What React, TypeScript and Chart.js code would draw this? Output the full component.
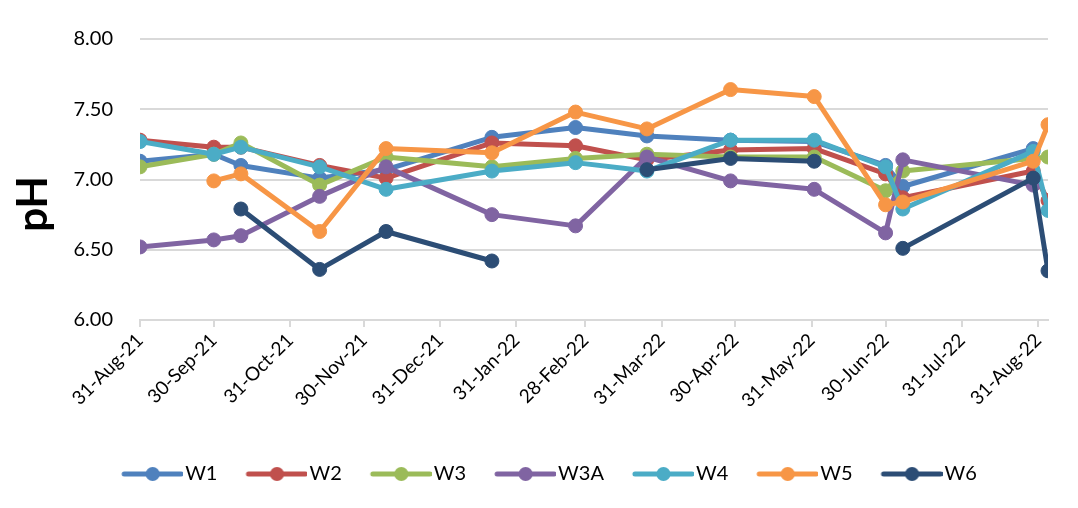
import React, { useEffect, useRef } from 'react';
import { Chart, registerables } from 'chart.js';

Chart.register(...registerables);

// Sampling dates (shared by all series)
const SAMPLE_DATES = [
  '2021-08-31', '2021-09-30', '2021-10-11', '2021-11-12', '2021-12-09',
  '2022-01-21', '2022-02-24', '2022-03-25', '2022-04-28', '2022-06-01',
  '2022-06-30', '2022-07-07', '2022-08-29', '2022-09-04',
];

const W1_PH = [7.13, 7.18, 7.10, 7.01, 7.07, 7.30, 7.37, 7.31, 7.28, 7.27, 7.10, 6.95, 7.22, null];
const W2_PH = [7.28, 7.23, 7.23, 7.10, 7.01, 7.26, 7.24, 7.14, 7.21, 7.22, 7.04, 6.87, 7.06, 6.85];
const W3_PH = [7.09, 7.18, 7.26, 6.96, 7.16, 7.09, 7.15, 7.18, 7.16, 7.16, 6.92, 7.06, null, 7.16];
const W3A_PH = [6.52, 6.57, 6.60, 6.88, 7.09, 6.75, 6.67, 7.16, 6.99, 6.93, 6.62, 7.14, 6.96, null];
const W4_PH = [7.27, 7.18, 7.23, 7.09, 6.93, 7.06, 7.12, 7.06, 7.28, 7.28, 7.09, 6.79, 7.20, 6.78];
const W5_PH = [null, 6.99, 7.04, 6.63, 7.22, 7.19, 7.48, 7.36, 7.64, 7.59, 6.82, 6.84, 7.13, 7.39];
const W6_PH = [null, null, 6.79, 6.36, 6.63, 6.42, null, 7.07, 7.15, 7.13, null, 6.51, 7.01, 6.35];

const SERIES_NAMES = ['W1', 'W2', 'W3', 'W3A', 'W4', 'W5', 'W6'];
const SERIES_VALUES = [W1_PH, W2_PH, W3_PH, W3A_PH, W4_PH, W5_PH, W6_PH];
const SERIES_COLORS = ['#4F81BD', '#C0504D', '#9BBB59', '#8064A2', '#4BACC6', '#F79646', '#2C4D75'];
const SERIES_SPAN_GAPS = [true, true, true, true, true, true, false];

const TICK_DATES = [
  '2021-08-31', '2021-09-30', '2021-10-31', '2021-11-30', '2021-12-31', '2022-01-31',
  '2022-02-28', '2022-03-31', '2022-04-30', '2022-05-31', '2022-06-30', '2022-07-31', '2022-08-31',
];
const TICK_LABELS = [
  '31-Aug-21', '30-Sep-21', '31-Oct-21', '30-Nov-21', '31-Dec-21', '31-Jan-22',
  '28-Feb-22', '31-Mar-22', '30-Apr-22', '31-May-22', '30-Jun-22', '31-Jul-22', '31-Aug-22',
];
const X_MIN_DATE = '2021-08-31';
const X_MAX_DATE = '2022-09-04';
const Y_MIN = 6;
const Y_MAX = 8;
const Y_STEP = 0.5;
const Y_TITLE = 'pH';

const FONT = 'Lato';

function dayOf(s: string): number {
  const [y, m, d] = s.split('-').map(Number);
  return (Date.UTC(y, m - 1, d) - Date.UTC(2021, 7, 31)) / 86400000;
}

function makeLegendImage(color: string): HTMLCanvasElement {
  const c = document.createElement('canvas');
  c.width = 88;
  c.height = 18;
  const g = c.getContext('2d')!;
  g.strokeStyle = color;
  g.lineWidth = 5;
  g.lineCap = 'round';
  g.beginPath();
  g.moveTo(29, 9);
  g.lineTo(86, 9);
  g.stroke();
  g.fillStyle = color;
  g.beginPath();
  g.arc(57.5, 9, 7, 0, Math.PI * 2);
  g.fill();
  return c;
}

const LEGEND_SHIFT = 16;

export default function App() {
  const ref = useRef<HTMLCanvasElement | null>(null);

  useEffect(() => {
    if (!ref.current) return;
    const images = SERIES_COLORS.map(makeLegendImage);
    const tickDays = TICK_DATES.map(dayOf);

    const datasets = SERIES_NAMES.map((name, i) => ({
      label: name,
      data: SAMPLE_DATES.map((d, j) => ({ x: dayOf(d), y: SERIES_VALUES[i][j] })),
      borderColor: SERIES_COLORS[i],
      backgroundColor: SERIES_COLORS[i],
      pointBackgroundColor: SERIES_COLORS[i],
      pointBorderColor: SERIES_COLORS[i],
      borderWidth: 5,
      pointRadius: 7,
      pointBorderWidth: 1,
      borderJoinStyle: 'round' as const,
      borderCapStyle: 'round' as const,
      spanGaps: SERIES_SPAN_GAPS[i],
      tension: 0,
      order: SERIES_NAMES.length - 1 - i,
    }));

    const legendShift = {
      id: 'legendShift',
      afterLayout(chart: any) {
        if (chart.legend) {
          chart.legend.left += LEGEND_SHIFT;
          chart.legend.right += LEGEND_SHIFT;
        }
      },
    };

    const yTitle = {
      id: 'yTitle',
      afterDraw(chart: any) {
        const ctx = chart.ctx;
        ctx.save();
        ctx.translate(33, 204);
        ctx.rotate(-Math.PI / 2);
        ctx.fillStyle = '#000';
        ctx.font = `bold 42px ${FONT}`;
        ctx.textAlign = 'center';
        ctx.textBaseline = 'middle';
        ctx.fillText(Y_TITLE, 0, 0);
        ctx.restore();
      },
    };

    const chart = new Chart(ref.current, {
      type: 'line',
      data: { datasets },
      plugins: [legendShift, yTitle],
      options: {
        responsive: false,
        animation: false,
        events: [],
        layout: { padding: { left: 0, right: 30, top: 37, bottom: 14 } },
        plugins: {
          tooltip: { enabled: false },
          title: { display: false },
          legend: {
            display: true,
            position: 'bottom',
            labels: {
              usePointStyle: true,
              pointStyleWidth: 72,
              padding: 10,
              color: '#000',
              font: { family: FONT, size: 20 },
              generateLabels: () =>
                SERIES_NAMES.map((n, i) => ({
                  text: n,
                  pointStyle: images[i],
                  fillStyle: SERIES_COLORS[i],
                  strokeStyle: SERIES_COLORS[i],
                  lineWidth: 0,
                  hidden: false,
                  datasetIndex: i,
                  fontColor: '#000',
                })),
            },
          },
        },
        scales: {
          x: {
            type: 'linear',
            min: dayOf(X_MIN_DATE),
            max: dayOf(X_MAX_DATE),
            afterBuildTicks: (scale: any) => {
              scale.ticks = tickDays.map((v) => ({ value: v }));
            },
            afterFit: (scale: any) => {
              scale.height = 134;
            },
            ticks: {
              autoSkip: false,
              minRotation: 45,
              maxRotation: 45,
              color: '#000',
              font: { family: FONT, size: 19 },
              padding: 2,
              callback: (_v: any, i: number) => TICK_LABELS[i],
            },
            grid: {
              display: true,
              drawOnChartArea: false,
              drawTicks: true,
              tickLength: 7,
              color: '#d9d9d9',
              lineWidth: 2,
            },
            border: { display: true, color: '#d9d9d9', width: 2 },
          },
          y: {
            min: Y_MIN,
            max: Y_MAX,
            afterFit: (scale: any) => {
              scale.width = 140;
            },
            ticks: {
              stepSize: Y_STEP,
              color: '#000',
              padding: 27,
              font: { family: FONT, size: 20 },
              callback: (v: any) => Number(v).toFixed(2),
            },
            grid: { color: '#d9d9d9', lineWidth: 2, drawTicks: false },
            border: { display: false },
            title: { display: false },
          },
        },
      },
    });
    return () => chart.destroy();
  }, []);

  return (
    <div style={{ position: 'absolute', left: 0, top: 0, width: 1078, height: 508, background: '#fff' }}>
      <canvas ref={ref} width={1078} height={508} style={{ display: 'block' }} />
    </div>
  );
}
